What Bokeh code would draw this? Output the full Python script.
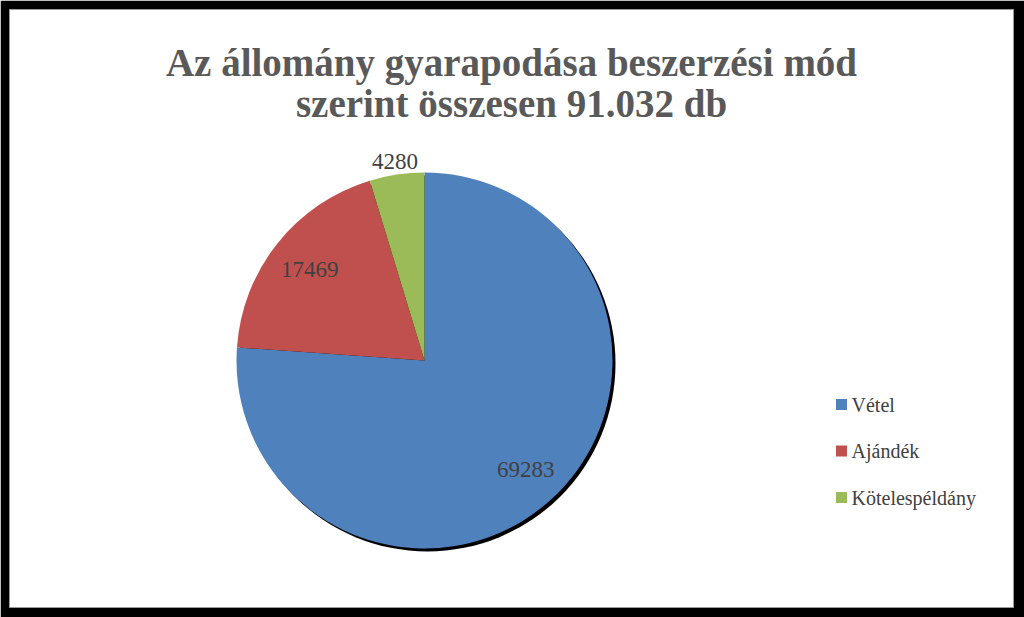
import numpy as np
from bokeh.plotting import figure
from bokeh.models import Range1d, ColumnDataSource
from bokeh.core.properties import value
from bokeh.embed import file_html
from bokeh.resources import INLINE

# ---- data ----
categories = ["Vétel", "Ajándék", "Kötelespéldány"]
counts = [69283, 17469, 4280]
colors = ["#4F81BD", "#C0504D", "#9BBB59"]
label_radius = [0.79, 0.78, 1.07]
title_lines = ["Az állomány gyarapodása beszerzési mód", "szerint összesen 91.032 db"]

# ---- layout constants (page pixel frame, y up) ----
W, H = 1024, 617
CX, CY, R = 424, 617 - 360, 188

total = sum(counts)
fr = np.array(counts) / total
cum = np.concatenate([[0], np.cumsum(fr)])
start = np.pi / 2 - 2 * np.pi * cum[:-1]
end = np.pi / 2 - 2 * np.pi * cum[1:]
mid = (start + end) / 2

src = ColumnDataSource(dict(
    cat=categories, val=counts, color=colors,
    start=start, end=end,
    lx=CX + np.array(label_radius) * R * np.cos(mid),
    ly=CY + np.array(label_radius) * R * np.sin(mid),
    txt=[str(v) for v in counts],
))

p = figure(width=W, height=H, x_range=Range1d(9, 1013), y_range=Range1d(10, 608),
           output_backend="svg", toolbar_location=None,
           x_axis_location=None, y_axis_location=None,
           min_border_left=9, min_border_right=11, min_border_top=9, min_border_bottom=10,
           border_fill_color="black", background_fill_color="white",
           outline_line_color="#9a9a9a")
p.grid.visible = False

# shadow
p.circle(x=[CX + 3], y=[CY - 3], radius=R, fill_color="black", line_color=None)

p.wedge(x=CX, y=CY, radius=R, start_angle="start", end_angle="end", direction="clock",
        fill_color="color", line_color=None, source=src)

p.text(x="lx", y="ly", text="txt", source=src, text_align="center", text_baseline="middle",
       text_font=value("Liberation Serif"), text_font_size="23px", text_color="#404040")

# title
p.text(x=[511, 511], y=[617 - 62, 617 - 103], text=title_lines, text_align="center",
       text_baseline="alphabetic", text_font=value("Liberation Serif"),
       text_font_style="bold", text_font_size="39px", text_color="#595959")

# legend
ly = np.array([617 - 404 - 46.5 * i for i in range(len(categories))])
p.scatter(x=[841] * len(categories), y=ly, marker="square", size=11,
          fill_color=colors, line_color=None)
p.text(x=[851] * len(categories), y=ly, text=categories, text_align="left",
       text_baseline="middle", text_font=value("Liberation Serif"),
       text_font_size="20px", text_color="#404040")

open("out.html", "w").write(file_html(p, INLINE))
